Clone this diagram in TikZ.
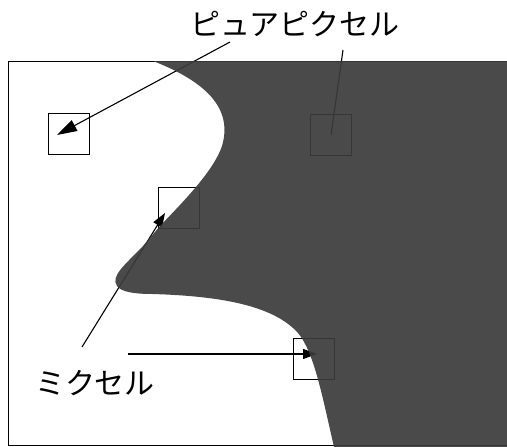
\documentclass[tikz,border=0pt]{standalone}
\usepackage{fontspec}
\newfontfamily\jpfont{Noto Sans CJK JP}
\usetikzlibrary{arrows.meta}
\definecolor{inkgray}{gray}{0.23}

\tikzset{
	pixbox/.style={draw, minimum size=41pt, inner sep=0pt, line width=0.8pt},
	callout/.style={line width=1.1pt, -{Triangle[length=20pt,width=12pt]}},
	jplabel/.style={font=\jpfont\fontsize{30}{35}\selectfont, inner sep=0pt}
}

\begin{document}
\begin{tikzpicture}[x=1pt,y=-1pt]
				\useasboundingbox (0,0) rectangle (507,447);
				
				% frame
				\draw[line width=0.9pt] (507,61) -- (8,61) -- (8,445) -- (507,445);
				
				\node[pixbox] (boxA) at (68.5,133.5) {};
				\node[pixbox] (boxB) at (331,135) {};
				\node[pixbox] (boxC) at (178.5,207.5) {};
				\node[pixbox] (boxD) at (313.5,359) {};
				
				\node[jplabel] (pure) at (295,24) {ピュアピクセル};
				\node[jplabel] (mixel) at (95,383) {ミクセル};
				
				\coordinate (pureA) at (230,42);
				\coordinate (pureB) at (343,50);
				\coordinate (tipA) at (57,135);
				\coordinate (mixelA) at (82,347);
				\coordinate (mixelB) at (128,354);
				\coordinate (tipC) at (165,213);
				\coordinate (tipD) at (317,354);
				
				\draw[callout] (pureA) -- (tipA);
				\draw[line width=1.1pt] (pureB) -- (boxB.center);
				\draw[callout, -{Triangle[length=14pt,width=10pt]}] (mixelA) -- (tipC);
				\draw[callout, -{Triangle[length=14pt,width=10pt]}] (mixelB) -- (tipD);
				
				% dark side of the edge, laid over what lies in it
				\fill[inkgray, opacity=0.92] (153,61) .. controls (212,84) and (232,112) .. (222,146)
					.. controls (214,170) and (185,200) .. (160,226)
					-- (143,246) .. controls (126,264) and (110,276) .. (117,286)
					.. controls (121,292) and (135,294) .. (152,294)
					.. controls (222,296) and (274,306) .. (298,333)
					.. controls (314,352) and (322,395) .. (334,447)
					-- (507,447) -- (507,61) -- cycle;
			\end{tikzpicture}
\end{document}
